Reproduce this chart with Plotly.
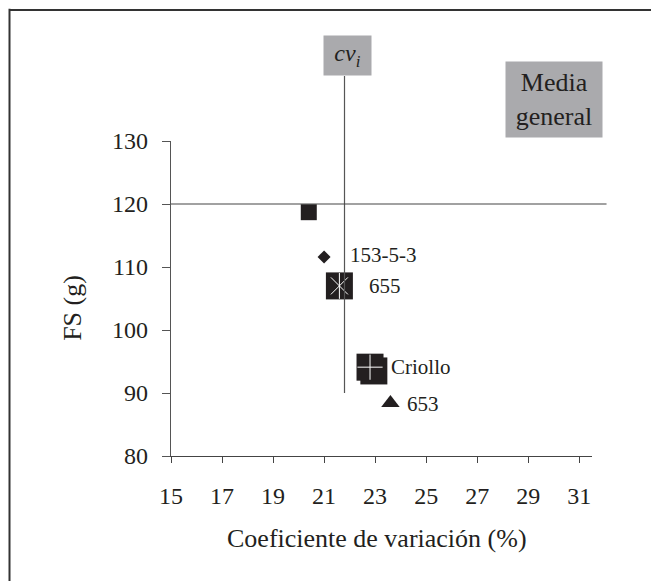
import plotly.graph_objects as go

# ---- data ----
cv = [20.4, 21.0, 21.6, 22.8, 22.95, 23.6]          # Coeficiente de variación (%)
fs = [118.7, 111.6, 107.0, 94.1, 93.5, 88.4]         # FS (g)
labels = ["", "153-5-3", "655", "Criollo", "", "653"]
cv_i = 21.8            # cv_i reference line
media_general = 120    # Media general line
x_ticks = [15, 17, 19, 21, 23, 25, 27, 29, 31]
y_ticks = [80, 90, 100, 110, 120, 130]
x_range = [15, 31.5]
y_range = [80, 130]
vline_bottom = 90
vline_top = 140.3
hline_end = 32.07

BLACK = "#231f20"
FONT = "Liberation Serif"

def xp(v):
    return (v - x_range[0]) / (x_range[1] - x_range[0])

def yp(v):
    return (v - y_range[0]) / (y_range[1] - y_range[0])

fig = go.Figure()

# square
fig.add_trace(go.Scatter(x=[cv[0]], y=[fs[0]], mode="markers",
                         marker=dict(symbol="square", size=16, color=BLACK), hoverinfo="skip"))
# diamond
fig.add_trace(go.Scatter(x=[cv[1]], y=[fs[1]], mode="markers",
                         marker=dict(symbol="diamond", size=10, color=BLACK), hoverinfo="skip"))
# 655: big square with white x + vertical line
fig.add_trace(go.Scatter(x=[cv[2]], y=[fs[2]], mode="markers",
                         marker=dict(symbol="square", size=27, color=BLACK), hoverinfo="skip"))
fig.add_trace(go.Scatter(x=[cv[2]], y=[fs[2]], mode="markers",
                         marker=dict(symbol="x-thin-open", size=17, color="white",
                                     line=dict(color="white", width=1)), hoverinfo="skip"))
fig.add_trace(go.Scatter(x=[cv[2]], y=[fs[2]], mode="markers",
                         marker=dict(symbol="line-ns-open", size=18.5, color="white",
                                     line=dict(color="white", width=1)), hoverinfo="skip"))
# Criollo: two overlapping squares with white cross
fig.add_trace(go.Scatter(x=[cv[4]], y=[fs[4]], mode="markers",
                         marker=dict(symbol="square", size=27, color=BLACK), hoverinfo="skip"))
fig.add_trace(go.Scatter(x=[cv[3]], y=[fs[3]], mode="markers",
                         marker=dict(symbol="square", size=27, color=BLACK,
                                     line=dict(color=BLACK, width=0)), hoverinfo="skip"))
fig.add_trace(go.Scatter(x=[cv[3]], y=[fs[3]], mode="markers",
                         marker=dict(symbol="cross-thin-open", size=18, color="white",
                                     line=dict(color="white", width=1)), hoverinfo="skip"))
# triangle
fig.add_trace(go.Scatter(x=[cv[5]], y=[fs[5]], mode="markers",
                         marker=dict(symbol="triangle-up", size=16, color=BLACK), hoverinfo="skip"))

# point labels
shifts = {"153-5-3": (24, 2), "655": (28, 0), "Criollo": (19, 0), "653": (15, -1)}
annotations = []
for x, y, t in zip(cv, fs, labels):
    if not t:
        continue
    dx, dy = shifts[t]
    annotations.append(dict(x=x, y=y, xref="x", yref="y", text=t, showarrow=False,
                            xanchor="left", yanchor="middle", xshift=dx, yshift=dy,
                            font=dict(family=FONT, size=21, color=BLACK)))

# cv_i box
annotations.append(dict(x=cv_i, xref="x", y=yp(vline_top), yref="paper",
                        text="<i>cv</i><sub><i>i</i></sub>", showarrow=False,
                        xanchor="center", yanchor="bottom", width=47, height=39,
                        xshift=3, bgcolor="#aaaaad", borderpad=0,
                        font=dict(family=FONT, size=24, color=BLACK)))
# Media general box
annotations.append(dict(x=1.0254, xref="paper", y=1.254, yref="paper",
                        text="Media<br>general", showarrow=False,
                        xanchor="right", yanchor="top", width=96, height=75,
                        bgcolor="#aaaaad", borderpad=0,
                        font=dict(family=FONT, size=26, color=BLACK)))
# axis titles
annotations.append(dict(x=0.49, xref="paper", y=-0.262, yref="paper",
                        text="Coeficiente de variación (%)", showarrow=False,
                        xanchor="center", yanchor="middle",
                        font=dict(family=FONT, size=26, color=BLACK)))
annotations.append(dict(x=-0.233, xref="paper", y=0.47, yref="paper",
                        text="FS (g)", showarrow=False, textangle=-90,
                        xanchor="center", yanchor="middle",
                        font=dict(family=FONT, size=26, color=BLACK)))

shapes = [
    # cv_i vertical line
    dict(type="line", xref="paper", yref="paper",
         x0=xp(cv_i), x1=xp(cv_i), y0=yp(vline_bottom), y1=yp(vline_top),
         line=dict(color="#555555", width=1.2)),
    # Media general horizontal line
    dict(type="line", xref="paper", yref="paper",
         x0=0, x1=xp(hline_end), y0=yp(media_general), y1=yp(media_general),
         line=dict(color="#444444", width=1.2)),
    # outer frame (left and top)
    dict(type="line", xref="paper", yref="paper", x0=-0.3836, x1=-0.3836, y0=-0.45, y1=1.42,
         line=dict(color="#333333", width=2)),
    dict(type="line", xref="paper", yref="paper", x0=-0.3836, x1=1.2, y0=1.416, y1=1.416,
         line=dict(color="#333333", width=2)),
]

fig.update_layout(
    width=651, height=573,
    margin=dict(l=163, r=67, t=133, b=125),
    paper_bgcolor="white", plot_bgcolor="white",
    showlegend=False,
    annotations=annotations,
    shapes=shapes,
    font=dict(family=FONT, size=24, color=BLACK),
    xaxis=dict(range=x_range, tickmode="array", tickvals=x_ticks,
               showgrid=False, zeroline=False, showline=True, linecolor="#444444", linewidth=1.2,
               ticks="outside", ticklen=6, tickcolor="#444444", tickwidth=1.2,
               ticklabelstandoff=12, tickfont=dict(family=FONT, size=24, color=BLACK),
               fixedrange=True),
    yaxis=dict(range=y_range, tickmode="array", tickvals=y_ticks,
               showgrid=False, zeroline=False, showline=True, linecolor="#555555", linewidth=1.2,
               ticks="outside", ticklen=8, tickcolor="#555555", tickwidth=1.2,
               ticklabelstandoff=9, tickfont=dict(family=FONT, size=24, color=BLACK),
               fixedrange=True),
)

fig.write_html("out.html")
